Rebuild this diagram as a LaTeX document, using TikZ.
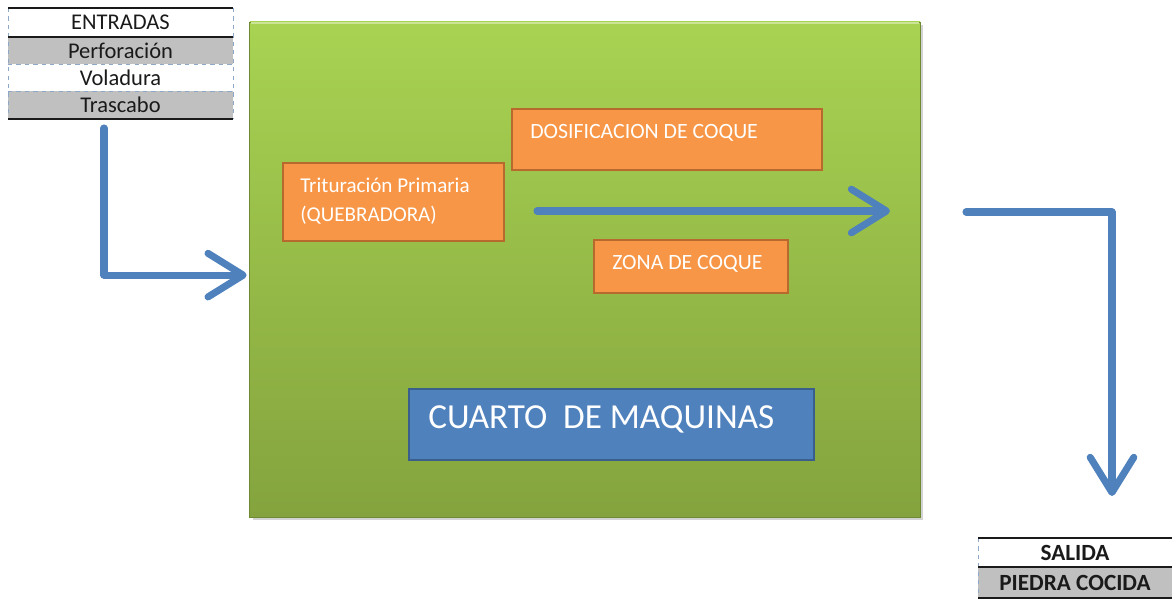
\documentclass[tikz,border=0pt]{standalone}
\usepackage{fontspec}
\setmainfont{Carlito}
\usetikzlibrary{arrows.meta,shadows}
\definecolor{greentop}{HTML}{A8D352}
\definecolor{greenbot}{HTML}{84A33E}
\definecolor{greenline}{HTML}{6E8A33}
\definecolor{orangebox}{HTML}{F79646}
\definecolor{orangeline}{HTML}{B8692E}
\definecolor{bluemain}{HTML}{4F81BD}
\definecolor{blueline}{HTML}{3A5F8C}
\definecolor{graycell}{HTML}{C0C0C0}
\definecolor{dashblue}{HTML}{8EA9C8}
\definecolor{blackmain}{HTML}{1A1A1A}
\tikzset{every node/.append style={font=\rmfamily}}
\tikzset{
  flow/.style={bluemain,line width=5pt,line cap=round,line join=round,
    -{Straight Barb[length=25pt,width=31pt,line cap=round,line join=round]}},
  orangecell/.style={draw=orangeline,fill=orangebox,line width=1.6pt,inner sep=0pt},
  whitetext/.style={white,font=\fontsize{15.5}{20.6}\selectfont,anchor=west,align=left,inner sep=0pt},
  tabletext/.style={blackmain,font=\fontsize{16}{18}\selectfont,inner sep=0pt}
}

\begin{document}
\begin{tikzpicture}[x=0.025cm,y=-0.025cm]
\useasboundingbox (0,0) rectangle (1172,601);
\node[top color=greentop,bottom color=greenbot,draw=greenline,line width=0.6pt,
  drop shadow={opacity=0.35,shadow xshift=2pt,shadow yshift=-2pt},
  minimum width=16.75cm,minimum height=12.375cm,inner sep=0pt] (plant) at (585,269.5) {};
\draw[white!40!greentop,line width=1.5pt] ([shift={(1pt,-1pt)}]plant.north west)--([shift={(-1pt,-1pt)}]plant.north east);
\node[orangecell,minimum width=5.525cm,minimum height=1.95cm] (trit) at (393.5,202) {};
\node[whitetext,font=\fontsize{15}{20.6}\selectfont] (tritlabel) at (300,201) {Trituración Primaria\\(QUEBRADORA)};
\node[orangecell,minimum width=7.75cm,minimum height=1.525cm] (dosif) at (667,139.5) {};
\node[whitetext] (dosiflabel) at (530,133) {DOSIFICACION DE COQUE};
\node[orangecell,minimum width=4.85cm,minimum height=1.325cm] (zona) at (691,266.5) {};
\node[whitetext] (zonalabel) at (612,264) {ZONA DE COQUE};
\node[draw=blueline,fill=bluemain,line width=1.6pt,minimum width=10.125cm,minimum height=1.775cm,inner sep=0pt] (cuarto) at (611.5,424.5) {};
\node[whitetext,font=\fontsize{25}{28}\selectfont] (cuartolabel) at (428,419) {CUARTO\ \ DE MAQUINAS};
\fill[graycell] (8,37) rectangle (233,64);
\fill[graycell] (8,91) rectangle (233,118);
\draw[dashblue,dashed,line width=0.6pt] (8,8)--(8,119) (233,8)--(233,119) (8,64)--(233,64) (8,91)--(233,91);
\draw[blackmain,line width=1.2pt] (8,8)--(233,8) (8,37)--(233,37) (8,119)--(233,119);
\node[tabletext] (entradas) at (120.5,22.5) {ENTRADAS};
\node[tabletext] (perfo) at (120.5,51) {Perforación};
\node[tabletext] (vola) at (120.5,78) {Voladura};
\node[tabletext] (trasc) at (120.5,105) {Trascabo};
\fill[graycell] (978,567) rectangle (1172,598);
\draw[dashblue,dashed,line width=0.6pt] (978,538)--(978,598);
\draw[blackmain,line width=1.2pt] (978,538)--(1172,538) (978,567)--(1172,567) (978,598)--(1172,598);
\node[tabletext,font=\fontsize{16.5}{18}\selectfont\bfseries] (salida) at (1075,553) {SALIDA};
\node[tabletext,font=\fontsize{16.5}{18}\selectfont\bfseries] (piedra) at (1075,583) {PIEDRA COCIDA};
\coordinate (inA) at (104,128);
\coordinate (midA) at (537,211);
\coordinate (midB) at (890,211);
\coordinate (outA) at (966,212);
\coordinate (outB) at (1112,496);
\draw[flow] (inA) |- ([yshift=-4pt,xshift=-2pt]plant.west);
\draw[flow] (midA)--(midB);
\draw[flow] (outA) -| (outB);
\end{tikzpicture}
\end{document}
